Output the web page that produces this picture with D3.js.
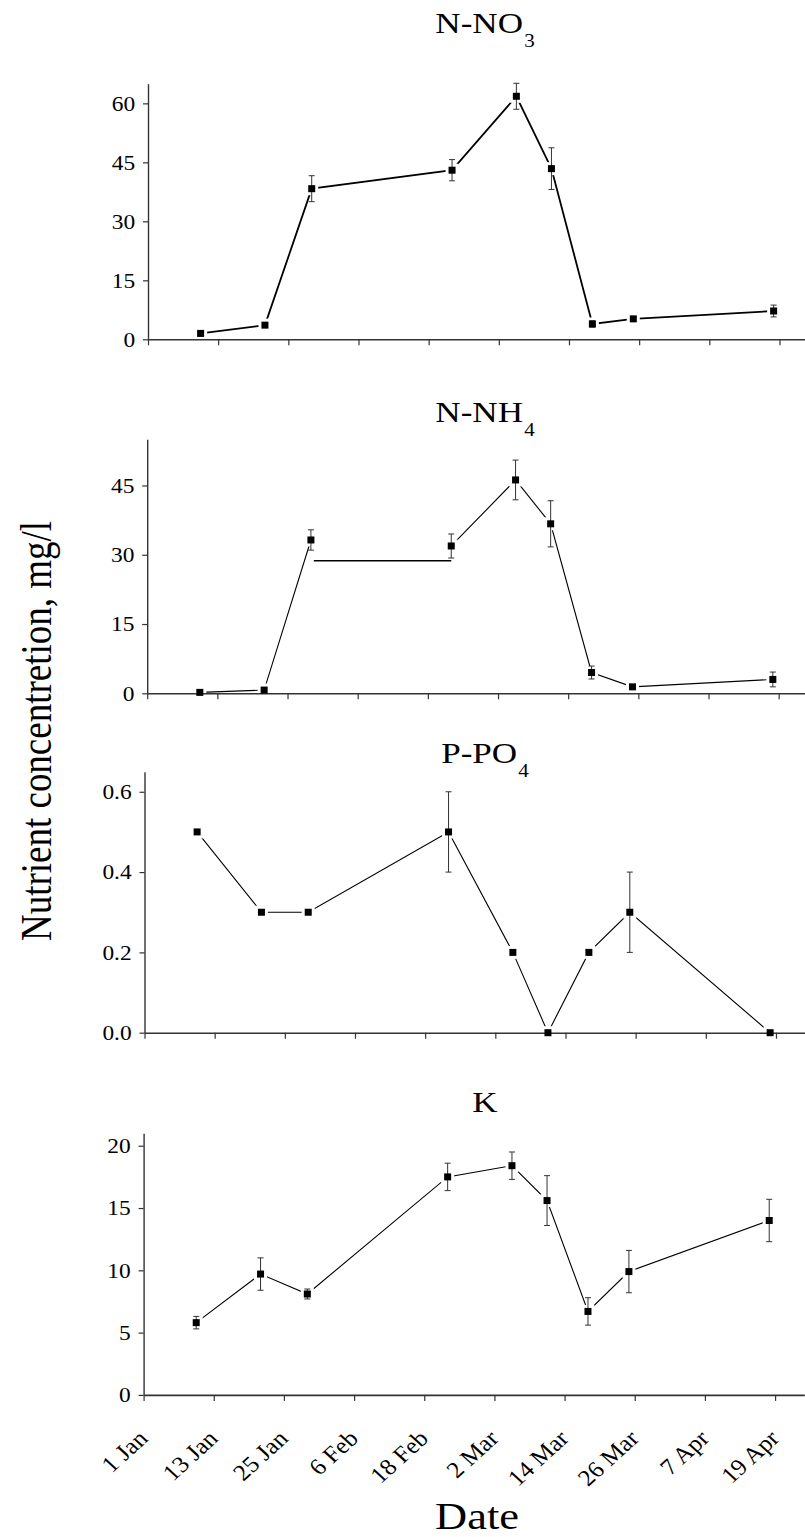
<!DOCTYPE html>
<html>
<head>
<meta charset="utf-8">
<script src="https://cdn.jsdelivr.net/npm/d3@7"></script>
<style>
  body { margin: 0; background: #fff; }
  svg text { font-family: "Liberation Serif", "Times New Roman", Times, "DejaVu Serif", serif; fill: #000; }
</style>
</head>
<body>
<svg id="chart" width="805" height="1537"></svg>
<script>
// sampling dates (2021, non leap year, so ticks fall on 2 Mar etc.)
var dates = ["2021-01-10", "2021-01-21", "2021-01-29", "2021-02-22", "2021-03-05",
             "2021-03-11", "2021-03-18", "2021-03-25", "2021-04-18"];

var no3    = [1.5, 3.6, 38.3, 43.0, 61.8, 43.4, 3.9, 5.2, 7.2];
var no3Err = [0.6, 0.6, 3.3, 2.7, 3.3, 5.3, 0.8, 0.5, 1.5];

var nh4    = [0.2, 0.7, 33.2, 31.9, 46.2, 36.7, 4.5, 1.4, 3.0];
var nh4Err = [0.5, 0.4, 2.2, 2.6, 4.3, 5.0, 1.4, 0.3, 1.6];
// stray flat segment that replaces the 3rd-4th link in the original figure
var nh4Flat = [["2021-01-29T12:00", 28.7], ["2021-02-22", 28.7]];

var po4    = [0.5, 0.3, 0.3, 0.5, 0.2, 0.0, 0.2, 0.3, 0.0];
var po4Err = [0, 0, 0, 0.1, 0, 0, 0, 0.1, 0];

var kVal   = [5.8, 9.7, 8.1, 17.5, 18.4, 15.6, 6.7, 9.9, 14.0];
var kErr   = [0.5, 1.3, 0.4, 1.1, 1.1, 2.0, 1.1, 1.7, 1.7];

var no3Ticks = [0, 15, 30, 45, 60];
var nh4Ticks = [0, 15, 30, 45];
var po4Ticks = [0, 0.2, 0.4, 0.6];
var kTicks   = [0, 5, 10, 15, 20];

var xStart = "2021-01-01", xEnd = "2021-04-24";
var xTickLabels = ["1 Jan", "13 Jan", "25 Jan", "6 Feb", "18 Feb", "2 Mar", "14 Mar", "26 Mar", "7 Apr", "19 Apr"];

var parse = function(s) { return new Date(s + (s.length == 10 ? "T00:00:00Z" : ":00Z")); };

var svg = d3.select("#chart");
var serif = '"Liberation Serif", "Times New Roman", Times, "DejaVu Serif", serif';
var stretch = 1.17;   // the original figure is a bit wider than tall

// layout of the four panels
var panels = [
  {name: "N-NO", sub: "3", vals: no3, err: no3Err, ticks: no3Ticks, max: 65,   fmt: d3.format("d"),
   left: 148,   base: 339.3, top: 83.7,  titleY: 33,   lw: 1.8},
  {name: "N-NH", sub: "4", vals: nh4, err: nh4Err, ticks: nh4Ticks, max: 55,   fmt: d3.format("d"),
   left: 147.2, base: 693.3, top: 439.3, titleY: 422,  lw: 1.1, flat: nh4Flat, breakAt: 3},
  {name: "P-PO", sub: "4", vals: po4, err: po4Err, ticks: po4Ticks, max: 0.65, fmt: d3.format(".1f"),
   left: 144.5, base: 1032.7, top: 771.7, titleY: 763, lw: 1.1},
  {name: "K",    sub: "",  vals: kVal, err: kErr,  ticks: kTicks,  max: 21,   fmt: d3.format("d"),
   left: 143.6, base: 1394.9, top: 1133.3, titleY: 1112, lw: 1.1}
];

var pxPerDay = 5.847;

panels.forEach(function(p, pi) {
  var t0 = parse(xStart), t1 = parse(xEnd);
  var x = d3.scaleUtc()
      .domain([t0, t1])
      .range([p.left, p.left + d3.utcDay.count(t0, t1) * pxPerDay]);
  var y = d3.scaleLinear().domain([0, p.max]).range([p.base, p.top]);

  var pts = dates.map(function(d, i) { return {t: parse(d), v: p.vals[i], e: p.err[i]}; });
  var g = svg.append("g");

  var line = d3.line().x(function(d) { return x(d.t); }).y(function(d) { return y(d.v); });

  if (p.breakAt) {
    g.append("path").attr("d", line(pts.slice(0, p.breakAt)))
      .attr("fill", "none").attr("stroke", "#000").attr("stroke-width", p.lw);
    g.append("path").attr("d", line(pts.slice(p.breakAt)))
      .attr("fill", "none").attr("stroke", "#000").attr("stroke-width", p.lw);
    g.append("path")
      .attr("d", line(p.flat.map(function(f) { return {t: parse(f[0]), v: f[1]}; })))
      .attr("fill", "none").attr("stroke", "#000").attr("stroke-width", 1.6);
  } else {
    g.append("path").attr("d", line(pts))
      .attr("fill", "none").attr("stroke", "#000").attr("stroke-width", p.lw);
  }

  // white gap around the symbols, like the original plot
  g.selectAll("rect.halo").data(pts).enter().append("rect")
    .attr("x", function(d) { return x(d.t) - 6.5; })
    .attr("y", function(d) { return y(d.v) - 6.5; })
    .attr("width", 13).attr("height", 13)
    .attr("fill", "#fff");

  // axes
  var yAxis = d3.axisLeft(y).tickValues(p.ticks).tickFormat(p.fmt).tickSize(5).tickSizeOuter(0).tickPadding(6);
  var ya = g.append("g").attr("transform", "translate(" + p.left + ",0)").call(yAxis);
  ya.attr("font-family", serif);
  ya.select(".domain").attr("stroke", "#333").attr("stroke-width", 1.4);
  ya.selectAll(".tick line").attr("stroke", "#333").attr("stroke-width", 1.2);
  ya.selectAll("text").style("font-size", "20px").attr("dy", "0.34em")
    .attr("transform", "scale(" + stretch + ",1)");

  var tickDates = xTickLabels.map(function(l, i) { return d3.utcDay.offset(t0, 12 * i); });
  var xAxis = d3.axisBottom(x).tickValues(tickDates).tickSize(6).tickSizeOuter(0)
      .tickFormat(function(d, i) { return pi == 3 ? xTickLabels[i] : ""; });
  var xa = g.append("g").attr("transform", "translate(0," + p.base + ")").call(xAxis);
  xa.attr("font-family", serif);
  xa.select(".domain").attr("stroke", "#333").attr("stroke-width", 1.6);
  xa.selectAll(".tick line").attr("stroke", "#333").attr("stroke-width", 1.2);
  xa.selectAll("text")
    .style("font-size", "23px")
    .attr("text-anchor", "end")
    .attr("dy", "0").attr("y", 0)
    .attr("transform", "translate(5,45) scale(1.1,1) rotate(-45)");

  // error bars
  var eb = g.selectAll("g.eb").data(pts.filter(function(d) { return d.e > 0; })).enter().append("g")
    .attr("stroke", "#333").attr("stroke-width", 1);
  eb.append("line")
    .attr("x1", function(d) { return x(d.t); }).attr("x2", function(d) { return x(d.t); })
    .attr("y1", function(d) { return y(d.v - d.e); }).attr("y2", function(d) { return y(d.v + d.e); });
  eb.append("line")
    .attr("x1", function(d) { return x(d.t) - 3; }).attr("x2", function(d) { return x(d.t) + 3; })
    .attr("y1", function(d) { return y(d.v + d.e); }).attr("y2", function(d) { return y(d.v + d.e); });
  eb.append("line")
    .attr("x1", function(d) { return x(d.t) - 3; }).attr("x2", function(d) { return x(d.t) + 3; })
    .attr("y1", function(d) { return y(d.v - d.e); }).attr("y2", function(d) { return y(d.v - d.e); });

  // square symbols
  g.selectAll("rect.pt").data(pts).enter().append("rect")
    .attr("x", function(d) { return x(d.t) - 3.5; })
    .attr("y", function(d) { return y(d.v) - 3.5; })
    .attr("width", 7).attr("height", 7)
    .attr("fill", "#000");

  // title with subscript
  var title = g.append("text")
    .attr("transform", "translate(485," + p.titleY + ") scale(" + stretch + ",1)")
    .attr("text-anchor", "middle")
    .style("font-size", "30px");
  title.append("tspan").text(p.name);
  if (p.sub) title.append("tspan").attr("dx", 1).attr("dy", 14).style("font-size", "18px").text(p.sub);
});

svg.append("text")
  .attr("transform", "translate(477,1529) scale(" + stretch + ",1)")
  .attr("text-anchor", "middle")
  .style("font-size", "38px")
  .text("Date");

svg.append("text")
  .attr("transform", "translate(51,731) scale(" + stretch + ",1) rotate(-90)")
  .attr("text-anchor", "middle")
  .style("font-size", "37px")
  .text("Nutrient concentretion, mg/l");
</script>
</body>
</html>
